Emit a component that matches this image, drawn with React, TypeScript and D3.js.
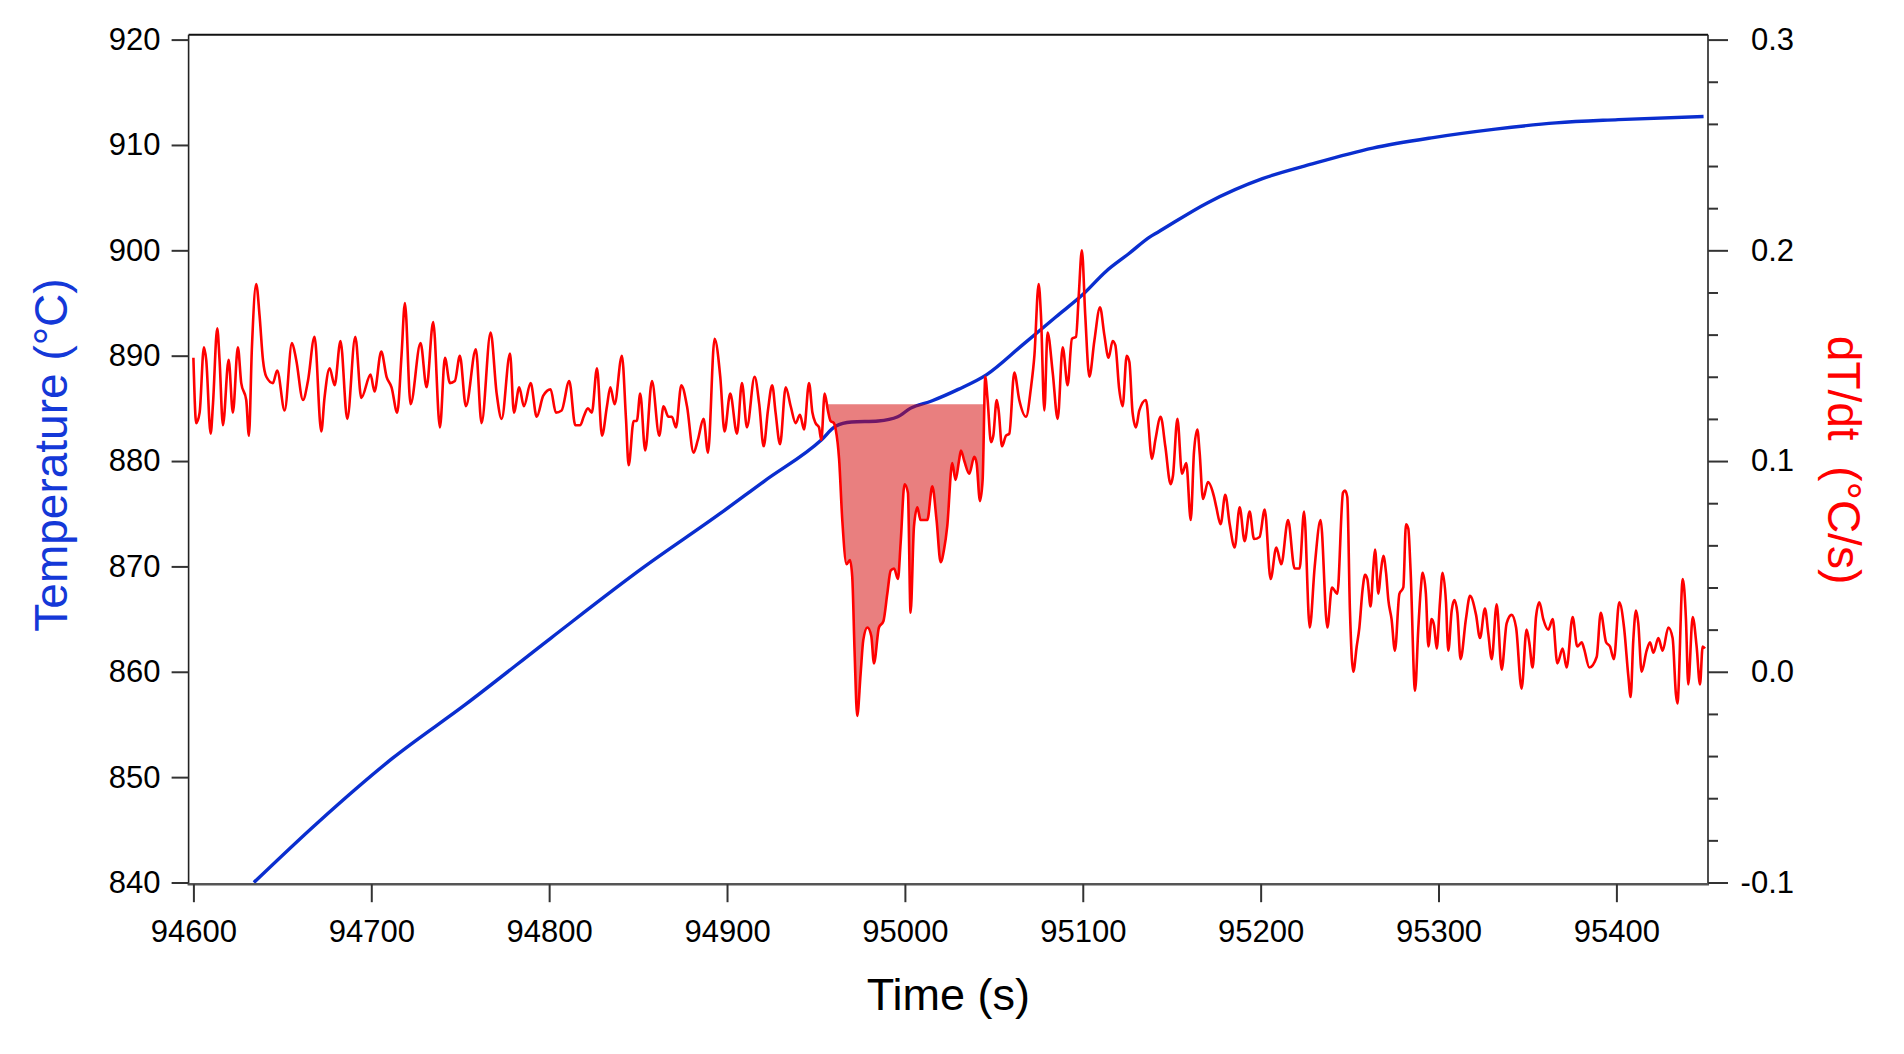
import React, { useEffect, useRef } from 'react'
import * as d3 from 'd3'

type TPoint = [number, number]

// [time (s), temperature (°C)]
const tempPoints: TPoint[] = [
  [94634, 840.0], [94670, 845.7], [94712, 851.8], [94753, 856.9], [94801, 863.2],
  [94853, 869.9], [94896, 875.0], [94921, 878.1], [94953, 882.0], [94961, 883.3],
  [94970, 883.7], [94985, 883.8], [94996, 884.2], [95003, 885.0], [95015, 885.7],
  [95030, 886.8], [95046, 888.2], [95066, 891.0], [95085, 893.7], [95100, 895.8],
  [95113, 898.0], [95126, 899.7], [95138, 901.3], [95142, 901.7], [95170, 904.5],
  [95201, 906.8], [95229, 908.2], [95263, 909.7], [95297, 910.7], [95332, 911.5],
  [95366, 912.1], [95401, 912.4], [95449, 912.7],
]

// [time (s), dT/dt (°C/s)]
const ratePoints: TPoint[] = [
  [94600, 0.149], [94601.6, 0.118], [94603.5, 0.123], [94605.9, 0.154], [94607.2, 0.148],
  [94609.7, 0.113], [94611, 0.127], [94613.4, 0.163], [94614.7, 0.148], [94616.6, 0.117],
  [94619.8, 0.148], [94622.2, 0.123], [94625, 0.154], [94626.9, 0.137], [94629.7, 0.129],
  [94631.2, 0.112], [94632.9, 0.154], [94635.3, 0.184], [94637.2, 0.169], [94639.1, 0.148],
  [94641, 0.14], [94644.7, 0.137], [94647.1, 0.143], [94651.3, 0.124], [94655.4, 0.156],
  [94657.8, 0.148], [94661.6, 0.129], [94664.4, 0.138], [94668.1, 0.159], [94671.9, 0.114],
  [94673.7, 0.13], [94676.6, 0.144], [94679.4, 0.136], [94682.7, 0.157], [94686.5, 0.12],
  [94691, 0.159], [94694.4, 0.13], [94699.6, 0.141], [94701.8, 0.133], [94705.6, 0.152],
  [94708.6, 0.14], [94711.4, 0.135], [94714.6, 0.123], [94717, 0.15], [94718.9, 0.175],
  [94722.1, 0.127], [94727.7, 0.156], [94731.1, 0.135], [94734.8, 0.166], [94738.6, 0.116],
  [94741.4, 0.149], [94744.2, 0.137], [94747, 0.138], [94749.8, 0.15], [94753.2, 0.126],
  [94758.8, 0.153], [94762, 0.118], [94767.1, 0.161], [94770.5, 0.132], [94773.3, 0.12],
  [94778, 0.151], [94780.2, 0.123], [94783.2, 0.135], [94785.8, 0.126], [94789.6, 0.137],
  [94793, 0.121], [94796.7, 0.131], [94800.8, 0.134], [94803.8, 0.123], [94807, 0.124],
  [94811.3, 0.138], [94814.7, 0.117], [94817.5, 0.117], [94819.4, 0.121], [94821.8, 0.125],
  [94824, 0.123], [94826.9, 0.144], [94829.7, 0.112], [94832.5, 0.126], [94834.4, 0.135],
  [94836.8, 0.127], [94840.9, 0.15], [94843.2, 0.12], [94844.7, 0.098], [94847.5, 0.119],
  [94849.3, 0.119], [94851.2, 0.132], [94854, 0.105], [94857.8, 0.138], [94861.9, 0.112],
  [94864.3, 0.126], [94867.1, 0.121], [94869, 0.121], [94871.3, 0.116], [94874.3, 0.136],
  [94877.5, 0.126], [94881.2, 0.104], [94883.6, 0.11], [94886.8, 0.12], [94889.3, 0.104],
  [94893, 0.158], [94896.2, 0.14], [94898.6, 0.114], [94901.8, 0.132], [94905.6, 0.113],
  [94908.4, 0.137], [94911.2, 0.116], [94915.5, 0.14], [94918.1, 0.127], [94920.6, 0.107],
  [94923, 0.124], [94925.4, 0.136], [94927.3, 0.123], [94929.8, 0.108], [94933, 0.135],
  [94935.8, 0.126], [94938.6, 0.118], [94941, 0.122], [94943.3, 0.115], [94946.1, 0.137],
  [94948, 0.123], [94949.8, 0.118], [94951.7, 0.116], [94953, 0.11], [94954.9, 0.132],
  [94956.7, 0.124], [94958.2, 0.119], [94960.1, 0.118], [94961.1, 0.115], [94963, 0.101],
  [94964.8, 0.072], [94967.2, 0.051], [94969.1, 0.053], [94970.4, 0.045], [94971.7, 0.01],
  [94973.2, -0.021], [94975.1, -0.001], [94976.6, 0.015], [94978.9, 0.021], [94981.1, 0.017],
  [94982.6, 0.004], [94985.4, 0.021], [94987.9, 0.024], [94990.1, 0.037], [94992, 0.048],
  [94993.9, 0.049], [94996.1, 0.044], [94997.6, 0.061], [94999.8, 0.089], [95001.7, 0.085],
  [95003.2, 0.028], [95005.1, 0.069], [95007, 0.078], [95008.8, 0.072], [95012.6, 0.072],
  [95015.4, 0.088], [95017.8, 0.072], [95020.1, 0.052], [95022, 0.058], [95023.8, 0.069],
  [95026.6, 0.099], [95028.5, 0.091], [95030.4, 0.1], [95031.5, 0.105], [95033.4, 0.1],
  [95036.2, 0.094], [95039, 0.102], [95040.3, 0.099], [95042.2, 0.081], [95043.7, 0.091],
  [95045.2, 0.14], [95046.5, 0.129], [95048.4, 0.109], [95049.7, 0.112], [95051.6, 0.129],
  [95052.7, 0.124], [95054.6, 0.107], [95056.8, 0.112], [95058.7, 0.113], [95061.5, 0.142],
  [95064.3, 0.129], [95068.1, 0.121], [95070.9, 0.135], [95072.8, 0.15], [95075.2, 0.184],
  [95076.5, 0.169], [95078.4, 0.124], [95080.2, 0.161], [95083.1, 0.142], [95085.9, 0.12],
  [95088.7, 0.154], [95091.5, 0.136], [95093.9, 0.158], [95096.2, 0.159], [95097.7, 0.178],
  [95099.5, 0.2], [95101.4, 0.169], [95103.7, 0.14], [95106.5, 0.157], [95109.7, 0.173],
  [95112.1, 0.16], [95114.5, 0.149], [95116.8, 0.157], [95118.3, 0.155], [95120.5, 0.134],
  [95122.4, 0.126], [95124.7, 0.15], [95126.2, 0.147], [95128, 0.123], [95129.9, 0.116],
  [95131.8, 0.124], [95135.5, 0.129], [95138.9, 0.101], [95140.8, 0.11], [95143.8, 0.121],
  [95146.4, 0.107], [95149.4, 0.089], [95150.7, 0.093], [95153.2, 0.12], [95155.8, 0.094],
  [95158.2, 0.099], [95160.7, 0.072], [95162.5, 0.104], [95164.4, 0.115], [95165.7, 0.104],
  [95167.6, 0.082], [95170.4, 0.09], [95173.8, 0.083], [95175.1, 0.078], [95177.5, 0.07],
  [95180.1, 0.084], [95182.6, 0.07], [95185.4, 0.059], [95188.2, 0.078], [95191, 0.062],
  [95193.8, 0.076], [95196.3, 0.063], [95199.4, 0.064], [95202.3, 0.077], [95205.6, 0.044],
  [95208.8, 0.059], [95211.6, 0.051], [95215.4, 0.072], [95219.1, 0.049], [95221.9, 0.049],
  [95224.4, 0.076], [95227.6, 0.021], [95230.4, 0.05], [95233.7, 0.072], [95237.5, 0.021],
  [95240.1, 0.04], [95243.1, 0.037], [95246.3, 0.085], [95247.4, 0.086], [95248.7, 0.083],
  [95250.2, 0.029], [95252.1, 0.0], [95254, 0.012], [95255.5, 0.021], [95257.3, 0.039],
  [95258.7, 0.046], [95260, 0.044], [95261.8, 0.031], [95263.3, 0.049], [95264.3, 0.058],
  [95266.2, 0.037], [95267.5, 0.047], [95269, 0.055], [95270.5, 0.047], [95271.8, 0.034],
  [95273.6, 0.025], [95275.5, 0.01], [95278, 0.037], [95280.2, 0.04], [95281.7, 0.07],
  [95283, 0.068], [95284.3, 0.048], [95286.8, -0.009], [95288.6, 0.02], [95290, 0.039],
  [95291.1, 0.047], [95292.9, 0.037], [95294.3, 0.012], [95296.1, 0.025], [95297.5, 0.022],
  [95299, 0.011], [95300.8, 0.033], [95302.3, 0.047], [95304.2, 0.033], [95305.5, 0.01],
  [95307.4, 0.029], [95308.9, 0.034], [95310.6, 0.028], [95312.4, 0.006], [95315.4, 0.025],
  [95317.7, 0.036], [95321.1, 0.027], [95323.3, 0.016], [95326.1, 0.03], [95328, 0.018],
  [95329.9, 0.006], [95332.7, 0.032], [95335.5, 0.001], [95338.3, 0.023], [95341.1, 0.027],
  [95343.6, 0.021], [95346.7, -0.008], [95349.5, 0.02], [95351, 0.014], [95352.9, 0.002],
  [95354.8, 0.026], [95356.7, 0.033], [95358.9, 0.025], [95361.7, 0.02], [95364.2, 0.025],
  [95366.8, 0.004], [95369.8, 0.011], [95372, 0.002], [95375.4, 0.026], [95378, 0.012],
  [95380.5, 0.014], [95381.8, 0.011], [95384.8, 0.002], [95388.9, 0.007], [95391.2, 0.028],
  [95394.2, 0.014], [95396.4, 0.012], [95398.6, 0.006], [95401.6, 0.033], [95404.3, 0.021],
  [95406.7, -0.002], [95408, -0.012], [95409.5, 0.015], [95411, 0.029], [95412.3, 0.023],
  [95414.2, 0.0], [95417, 0.01], [95418.9, 0.014], [95420.8, 0.009], [95423.6, 0.016],
  [95426, 0.01], [95429.2, 0.021], [95431.6, 0.016], [95433.5, -0.011], [95434.3, -0.015],
  [95437.3, 0.044], [95439.1, 0.025], [95440.4, -0.006], [95442.9, 0.026], [95445.1, 0.012],
  [95447, -0.006], [95448.5, 0.012], [95449.8, 0.011],
]

const timeTicks = [94600, 94700, 94800, 94900, 95000, 95100, 95200, 95300, 95400]
const tempTicks = [840, 850, 860, 870, 880, 890, 900, 910, 920]
const rateTicks = [-0.1, 0.0, 0.1, 0.2, 0.3]
const rateMinorTicks = [
  -0.08, -0.06, -0.04, -0.02, 0.02, 0.04, 0.06, 0.08, 0.12, 0.14, 0.16, 0.18,
  0.22, 0.24, 0.26, 0.28,
]

// shaded dip (time window and dT/dt level)
const shadeStart = 94956.2
const shadeEnd = 95044.1
const shadeLevel = 0.127

const W = 1904
const H = 1054
const FONT = "'Liberation Sans', Arial, sans-serif"
const BLUE = '#0A2ECF'
const RED = '#FF0000'

const App = (): JSX.Element => {
  const ref = useRef<SVGSVGElement>(null)

  useEffect(() => {
    const svg = d3.select(ref.current)
    svg.selectAll('*').remove()

    const left = 188.6
    const right = 1708
    const top = 34.8
    const bottom = 884.2

    const x = d3.scaleLinear().domain([94597.3, 95451.5]).range([left, right])
    const yT = d3.scaleLinear().domain([840, 920]).range([882.5, 39.6])
    const yR = d3.scaleLinear().domain([-0.1, 0.3]).range([882.5, 39.6])

    svg.append('rect').attr('width', W).attr('height', H).attr('fill', '#fff')

    // temperature curve
    svg
      .append('path')
      .datum(tempPoints)
      .attr('fill', 'none')
      .attr('stroke', BLUE)
      .attr('stroke-width', 3.4)
      .attr('stroke-linejoin', 'round')
      .attr(
        'd',
        d3
          .line<TPoint>()
          .x(d => x(d[0]))
          .y(d => yT(d[1]))
          .curve(d3.curveMonotoneX),
      )

    // shaded dip
    svg
      .append('clipPath')
      .attr('id', 'shadeClip')
      .append('rect')
      .attr('x', x(shadeStart))
      .attr('y', 0)
      .attr('width', x(shadeEnd) - x(shadeStart))
      .attr('height', H)
    svg
      .append('path')
      .datum(ratePoints)
      .attr('clip-path', 'url(#shadeClip)')
      .attr('fill', '#D40000')
      .attr('fill-opacity', 0.5)
      .attr(
        'd',
        d3
          .area<TPoint>()
          .x(d => x(d[0]))
          .y0(yR(shadeLevel))
          .y1(d => yR(Math.min(d[1], shadeLevel)))
          .curve(d3.curveMonotoneX),
      )

    // dT/dt curve
    svg
      .append('path')
      .datum(ratePoints)
      .attr('fill', 'none')
      .attr('stroke', RED)
      .attr('stroke-width', 2.6)
      .attr('stroke-linejoin', 'round')
      .attr(
        'd',
        d3
          .line<TPoint>()
          .x(d => x(d[0]))
          .y(d => yR(d[1]))
          .curve(d3.curveMonotoneX),
      )

    // frame
    svg.append('line').attr('x1', left).attr('x2', right).attr('y1', top).attr('y2', top)
      .attr('stroke', '#111').attr('stroke-width', 2)
    svg.append('line').attr('x1', left).attr('x2', left).attr('y1', top).attr('y2', bottom)
      .attr('stroke', '#222').attr('stroke-width', 1.6)
    svg.append('line').attr('x1', right).attr('x2', right).attr('y1', top).attr('y2', bottom)
      .attr('stroke', '#222').attr('stroke-width', 1.6)
    svg.append('line').attr('x1', left - 1).attr('x2', right + 1).attr('y1', bottom).attr('y2', bottom)
      .attr('stroke', '#555').attr('stroke-width', 2.6)

    const styleAxis = (g: d3.Selection<SVGGElement, unknown, null, undefined>) => {
      g.select('.domain').remove()
      g.selectAll('.tick line').attr('stroke', '#333').attr('stroke-width', 2)
      g.selectAll('.tick text')
        .attr('fill', '#000')
        .style('font-family', FONT)
        .style('font-size', '31px')
    }

    svg
      .append('g')
      .attr('transform', `translate(${left},0)`)
      .call(
        d3.axisLeft(yT).tickValues(tempTicks).tickSize(17).tickPadding(11).tickFormat(d3.format('d')),
      )
      .call(styleAxis)

    svg
      .append('g')
      .attr('transform', `translate(0,${bottom})`)
      .call(
        d3.axisBottom(x).tickValues(timeTicks).tickSize(18).tickPadding(18).tickFormat(d3.format('d')),
      )
      .call(styleAxis)

    svg
      .append('g')
      .attr('transform', `translate(${right},0)`)
      .call(d3.axisRight(yR).tickValues(rateMinorTicks).tickSize(10).tickFormat(() => ''))
      .call(styleAxis)

    svg
      .append('g')
      .attr('transform', `translate(${right},0)`)
      .call(
        d3
          .axisRight(yR)
          .tickValues(rateTicks)
          .tickSize(20)
          .tickFormat(d => (+d).toFixed(1)),
      )
      .call(styleAxis)
      .call(g => g.selectAll('.tick text').attr('x', 86).attr('text-anchor', 'end'))

    // titles
    svg
      .append('text')
      .attr('x', (left + right) / 2)
      .attr('y', 1010)
      .attr('text-anchor', 'middle')
      .style('font-family', FONT)
      .style('font-size', '45px')
      .attr('fill', '#000')
      .text('Time (s)')

    svg
      .append('text')
      .attr('transform', 'translate(67,455) rotate(-90)')
      .attr('text-anchor', 'middle')
      .style('font-family', FONT)
      .style('font-size', '46px')
      .attr('fill', '#1438D8')
      .text('Temperature (°C)')

    svg
      .append('text')
      .attr('transform', 'translate(1828,460) rotate(90)')
      .attr('text-anchor', 'middle')
      .style('font-family', FONT)
      .style('font-size', '46px')
      .style('white-space', 'pre')
      .attr('fill', RED)
      .text('dT/dt  (°C/s)')
  }, [])

  return (
    <svg
      ref={ref}
      width={W}
      height={H}
      style={{ position: 'absolute', left: 0, top: 0, display: 'block' }}
    />
  )
}

export default App
